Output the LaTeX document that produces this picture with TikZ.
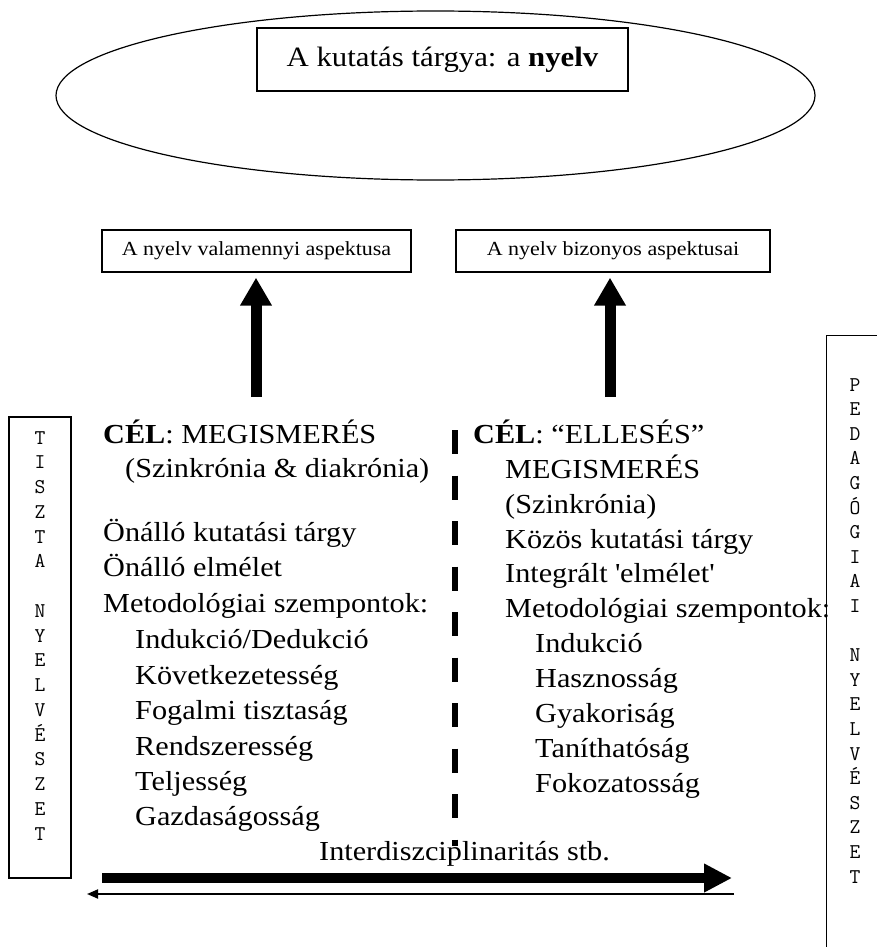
\documentclass[tikz,border=0pt]{standalone}
\usepackage{fontspec}
\setmainfont{Liberation Serif}[FakeStretch=1.1]
\usetikzlibrary{arrows.meta,shapes.geometric}

\begin{document}
\begin{tikzpicture}[x=1pt,y=-1pt,
  frame/.style={draw, line width=1.3pt, inner sep=0pt},
  body/.style={anchor=base west, inner sep=0pt, font=\fontsize{27.5}{35}\selectfont},
  smallbox/.style={frame, minimum height=42pt, font=\fontsize{20}{24}\selectfont},
  letter/.style={anchor=base, inner sep=0pt, font=\ttfamily\fontsize{21}{24}\selectfont},
  bigup/.style={line width=11pt, -{Triangle[width=30pt,length=28pt]}, shorten >=5pt},
]
\useasboundingbox (0,0) rectangle (877,947);
\clip (0,0) rectangle (877,947);
\fill[white] (0,0) rectangle (877,947);

% research object
\node[ellipse, draw, line width=1.2pt, minimum width=759pt, minimum height=169pt] (oval) at (435.5,95.5) {};
\node[frame, minimum width=371pt, minimum height=63pt, font=\fontsize{28}{32}\selectfont] (title) at (442.5,59.5) {A kutatás tárgya: a \textbf{nyelv}};

% aspect boxes
\node[smallbox, minimum width=309pt] (box1) at (256.5,251) {A nyelv valamennyi aspektusa};
\node[smallbox, minimum width=314pt] (box2) at (613,251) {A nyelv bizonyos aspektusai};

\coordinate (a1) at (256,397);
\coordinate (a2) at (610,397);
\draw[bigup] (a1) -- (a1 |- box1.south);
\draw[bigup] (a2) -- (a2 |- box2.south);

% side frames with vertical letters
\node[draw, line width=1.3pt, minimum width=62pt, minimum height=461pt, inner sep=0pt] (lframe) at (40,647.5) {};
\node[draw, line width=1.3pt, minimum width=80pt, minimum height=640pt, inner sep=0pt, anchor=north west] (rframe) at (826,335) {};
\foreach \ch [count=\i from 0] in {T,I,S,Z,T,A,{},N,Y,E,L,V,É,S,Z,E,T}
  \node[letter] (tl\i) at (40,444+\i*24.75) {\ch};
\foreach \ch [count=\i from 0] in {P,E,D,A,G,Ó,G,I,A,I,{},N,Y,E,L,V,É,S,Z,E,T}
  \node[letter] (pl\i) at (855,391+\i*24.6) {\ch};

% dividing line
\coordinate (d1) at (455,430);
\coordinate (d2) at (455,846);
\draw[line width=6pt, dash pattern=on 24pt off 21.5pt] (d1) -- (d2);

% left column
\node[body] (l1) at (103,443) {\textbf{CÉL}: MEGISMERÉS};
\node[body] (l2) at (125,477) {(Szinkrónia \& diakrónia)};
\node[body] (l3) at (103,541) {Önálló kutatási tárgy};
\node[body] (l4) at (103,576) {Önálló elmélet};
\node[body] (l5) at (103,612) {Metodológiai szempontok:};
\node[body] (l6) at (135,648) {Indukció/Dedukció};
\node[body] (l7) at (135,684) {Következetesség};
\node[body] (l8) at (135,719) {Fogalmi tisztaság};
\node[body] (l9) at (135,755) {Rendszeresség};
\node[body] (l10) at (135,790) {Teljesség};
\node[body] (l11) at (135,825) {Gazdaságosság};

% right column
\node[body] (r1) at (473,443) {\textbf{CÉL}: “ELLESÉS”};
\node[body] (r2) at (505,478) {MEGISMERÉS};
\node[body] (r3) at (505,513) {(Szinkrónia)};
\node[body] (r4) at (505,548) {Közös kutatási tárgy};
\node[body] (r5) at (505,582) {Integrált \textquotesingle elmélet\textquotesingle};
\node[body] (r6) at (505,617) {Metodológiai szempontok:};
\node[body] (r7) at (535,652) {Indukció};
\node[body] (r8) at (535,687) {Hasznosság};
\node[body] (r9) at (535,722) {Gyakoriság};
\node[body] (r10) at (535,757) {Taníthatóság};
\node[body] (r11) at (535,792) {Fokozatosság};

% interdisciplinarity arrows
\node[body] (inter) at (319,860) {Interdiszciplinaritás stb.};
\coordinate (t1) at (102,878);
\coordinate (t2) at (732,878);
\coordinate (s1) at (734,894);
\coordinate (s2) at (87,894);
\draw[line width=10pt, -{Triangle[width=27pt,length=28pt]}] (t1) -- (t2);
\draw[line width=1.8pt, -{Triangle[width=9pt,length=11pt]}] (s1) -- (s2);
\end{tikzpicture}
\end{document}
